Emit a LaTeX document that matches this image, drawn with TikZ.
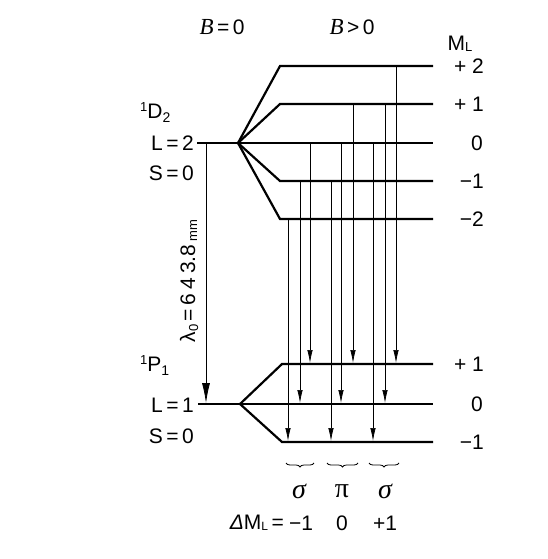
\documentclass[tikz,border=0pt]{standalone}
\usepackage{fontspec}
\setmainfont{Liberation Sans}
\newfontfamily\seriffont{Liberation Serif}
\usetikzlibrary{arrows.meta,decorations.pathreplacing}
\begin{document}
\begin{tikzpicture}[x=1pt,y=-1pt,
  lvl/.style={line width=2.2pt},
  trans/.style={line width=0.7pt,-{Latex[length=13pt,width=5.5pt]},shorten >=1pt},
  lbl/.style={font=\fontsize{21}{24}\selectfont, inner sep=0pt},
  grk/.style={font=\fontsize{28}{30}\selectfont\seriffont, inner sep=0pt},
  brc/.style={line width=0.8pt,decorate,decoration={brace,mirror,amplitude=4pt}},
]
\useasboundingbox (0,0) rectangle (547,559);

% ---- upper term 1D2 ----
\coordinate (uL) at (197,143);
\coordinate (J1) at (238,143);
\foreach \m/\y in {2/66,1/104,0/143,-1/181,-2/219}{
  \coordinate (k\m) at (280,\y);
  \coordinate (u\m) at (433,\y);
}
\draw[lvl] (uL) -- (J1) -- (u0);
\foreach \m in {2,1,-1,-2}{ \draw[lvl] (J1) -- (k\m) -- (u\m); }

% ---- lower term 1P1 ----
\coordinate (lL) at (198,404);
\coordinate (J2) at (240,404);
\foreach \m/\y in {1/364,0/404,-1/442}{
  \coordinate (m\m) at (282,\y);
  \coordinate (l\m) at (433,\y);
}
\draw[lvl] (lL) -- (J2) -- (l0);
\foreach \m in {1,-1}{ \draw[lvl] (J2) -- (m\m) -- (l\m); }

% ---- transitions ----
\foreach \x/\a/\b in {288/-2/-1,300/-1/0,310/0/1,331/-1/-1,341/0/0,353/1/1,373/0/-1,385/1/0,396/2/1}{
  \draw[trans] (\x,0 |- u\a) -- (\x,0 |- l\b);
}

% ---- lambda arrow ----
\coordinate (la) at (206,143);
\coordinate (lb) at (206,403);
\draw[line width=0.8pt,-{Latex[length=20pt,width=8pt]}] (la) -- (lb);
\node[lbl,rotate=90] (lam) at (189,281) {λ{\fontsize{13}{13}\selectfont\raisebox{-3pt}{0}}\kern3pt=\kern4pt6\kern4pt4\kern4pt3.8\kern3pt{\fontsize{13}{13}\selectfont\raisebox{-2pt}{mm}}};

% ---- left labels ----
\node[lbl,anchor=base west] (tD) at (140,118) {\raisebox{7pt}{\fontsize{13}{13}\selectfont 1}D\raisebox{-4pt}{\fontsize{14}{14}\selectfont 2}};
\node[lbl,anchor=east] (L2) at (194,143) {L\,=\,2};
\node[lbl,anchor=east] (S2) at (194,173) {S\,=\,0};
\node[lbl,anchor=base west] (tP) at (140,371) {\raisebox{7pt}{\fontsize{13}{13}\selectfont 1}P\raisebox{-4pt}{\fontsize{14}{14}\selectfont 1}};
\node[lbl,anchor=east] (L1) at (194,405) {L\,=\,1};
\node[lbl,anchor=east] (S1) at (194,436) {S\,=\,0};

% ---- top labels ----
\node[lbl] (B0) at (222,27) {{\fontsize{23}{24}\selectfont\seriffont\itshape B}\,=\,0};
\node[lbl] (B1) at (352,27) {{\fontsize{23}{24}\selectfont\seriffont\itshape B}\,>\,0};
\node[lbl] (ML) at (460,44) {M\raisebox{-1pt}{\fontsize{13}{13}\selectfont L}};

% ---- right labels ----
\node[lbl,anchor=east] (r2) at (484,66) {+ 2};
\node[lbl,anchor=east] (r1) at (484,104) {+ 1};
\node[lbl] (r0) at (477,143) {0};
\node[lbl,anchor=east] (rm1) at (484,181) {−1};
\node[lbl,anchor=east] (rm2) at (484,219) {−2};
\node[lbl,anchor=east] (s1) at (484,364) {+ 1};
\node[lbl] (s0) at (477,404) {0};
\node[lbl,anchor=east] (sm1) at (484,442) {−1};

% ---- braces and polarisations ----
\draw[brc] (286,463) -- (314,463);
\draw[brc] (327,463) -- (358,463);
\draw[brc] (369,463) -- (399,463);
\node[grk] (sg1) at (299,491) {\itshape σ};
\node[grk] (pi0) at (342,491) {π};
\node[grk] (sg2) at (385,491) {\itshape σ};

% ---- Delta M_L row ----
\node[lbl,anchor=east] (dM) at (284,523) {{\itshape Δ}M\raisebox{-1pt}{\fontsize{12}{12}\selectfont L}\,=};
\node[lbl] (dm1) at (301,523) {−1};
\node[lbl] (d0) at (342,523) {0};
\node[lbl] (dp1) at (385,523) {+1};
\end{tikzpicture}
\end{document}
